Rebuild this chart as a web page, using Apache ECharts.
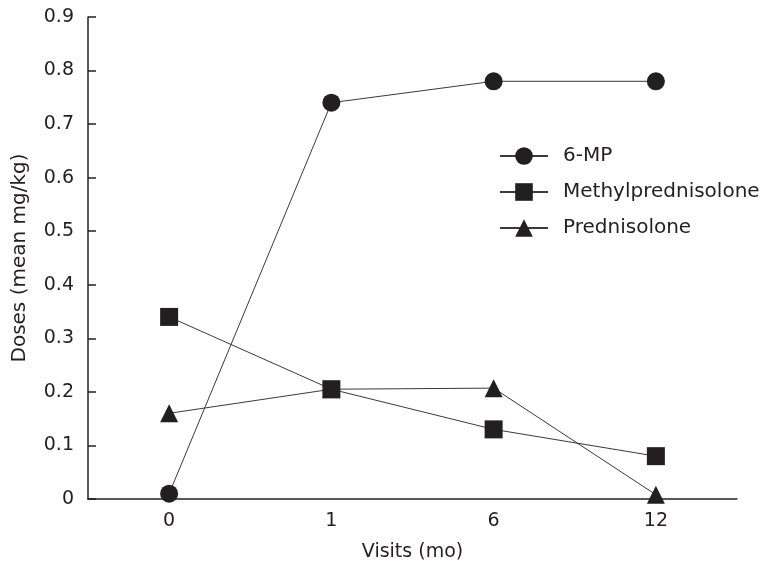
<!DOCTYPE html>
<html>
<head>
<meta charset="utf-8">
<script src="https://cdn.jsdelivr.net/npm/echarts@6/dist/echarts.min.js"></script>
<style>
  html, body { margin: 0; padding: 0; background: #fff; }
  #chart { width: 769px; height: 570px; }
</style>
</head>
<body>
<div id="chart"></div>
<script>
var visits = ["0", "1", "6", "12"];
var mp6 = [0.01, 0.74, 0.78, 0.78];
var methylpred = [0.34, 0.205, 0.13, 0.08];
var pred = [0.16, 0.205, 0.207, 0.008];

var ink = "#231f20";
var font = "DejaVu Sans";

function line(name, symbol, data, size) {
    return {
        name: name,
        type: "line",
        data: data,
        symbol: symbol,
        symbolSize: size,
        showAllSymbol: true,
        itemStyle: { color: ink },
        lineStyle: { color: "#3a3a3a", width: 1 },
        emphasis: { disabled: true },
        animation: false
    };
}

var chart = echarts.init(document.getElementById("chart"));
chart.setOption({
    backgroundColor: "#fff",
    textStyle: { fontFamily: font, color: ink },
    grid: { left: 88, right: 32, top: 17, bottom: 71, outerBoundsMode: "none", containLabel: false },
    legend: {
        orient: "vertical",
        left: 494,
        top: 141,
        itemWidth: 48,
        itemHeight: 22,
        itemGap: 16,
        textStyle: { fontFamily: font, fontSize: 20, color: ink, padding: [0, 0, 0, 10] },
        data: ["6-MP", "Methylprednisolone", "Prednisolone"]
    },
    xAxis: {
        type: "category",
        data: visits,
        name: "Visits (mo)",
        nameLocation: "middle",
        nameGap: 44,
        nameTextStyle: { fontFamily: font, fontSize: 19, color: ink },
        axisLine: { lineStyle: { color: ink, width: 1.5 } },
        axisTick: { inside: true, length: 8, lineStyle: { color: ink, width: 1.5 } },
        axisLabel: { fontFamily: font, fontSize: 19, color: ink, margin: 13 }
    },
    yAxis: {
        type: "value",
        min: 0,
        max: 0.9,
        interval: 0.1,
        name: "Doses (mean mg/kg)",
        nameLocation: "middle",
        nameGap: 58,
        nameTextStyle: { fontFamily: font, fontSize: 20, color: ink },
        splitLine: { show: false },
        axisLine: { show: true, lineStyle: { color: ink, width: 1.5 } },
        axisTick: { show: true, inside: true, length: 8, lineStyle: { color: ink, width: 1.5 } },
        axisLabel: {
            fontFamily: font, fontSize: 19, color: ink, margin: 14,
            formatter: function (v) { return v === 0 ? "0" : v.toFixed(1); }
        }
    },
    series: [
        line("6-MP", "circle", mp6, 18),
        line("Methylprednisolone", "rect", methylpred, 18),
        line("Prednisolone", "triangle", pred, 18)
    ]
});
</script>
</body>
</html>
